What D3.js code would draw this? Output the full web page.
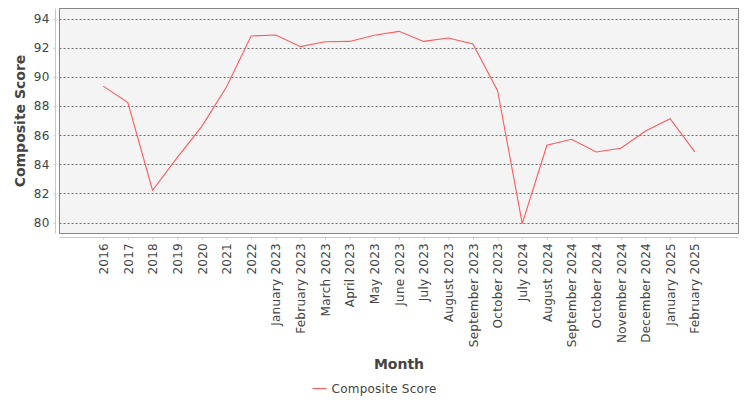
<!DOCTYPE html>
<html>
<head>
<meta charset="utf-8">
<script src="https://cdn.jsdelivr.net/npm/d3@7/dist/d3.min.js"></script>
<style>
  html, body { margin: 0; padding: 0; background: #ffffff; }
  svg { display: block; font-family: "DejaVu Sans", sans-serif; }
</style>
</head>
<body>
<div id="chart"></div>
<script>
const categories = ["2016","2017","2018","2019","2020","2021","2022",
  "January 2023","February 2023","March 2023","April 2023","May 2023","June 2023",
  "July 2023","August 2023","September 2023","October 2023","July 2024",
  "August 2024","September 2024","October 2024","November 2024","December 2024",
  "January 2025","February 2025"];
const compositeScore = [89.37, 88.24, 82.22, 84.46, 86.61, 89.31, 92.81,
  92.88, 92.08, 92.42, 92.44, 92.86, 93.13,
  92.44, 92.67, 92.26, 89.06, 79.93,
  85.31, 85.72, 84.85, 85.10, 86.29,
  87.13, 84.85];
const yTicks = [80, 82, 84, 86, 88, 90, 92, 94];
const seriesName = "Composite Score";
const xTitle = "Month";
const yTitle = "Composite Score";

const W = 750, H = 400;
const plot = { left: 59.5, right: 738.5, top: 8.5, bottom: 233.5 };
const pw = plot.right - plot.left;

const svg = d3.select("#chart").append("svg").attr("width", W).attr("height", H);

// category axis like JFreeChart: 5% margins, 20% category gap
const n = categories.length;
const lowerM = 0.05 * pw, upperM = 0.05 * pw;
const avail = pw - lowerM - upperM;
const cw = (avail - 0.2 * avail) / n;
const x = d3.scalePoint().domain(categories)
  .range([plot.left + lowerM + cw / 2, plot.right - upperM - cw / 2]);

const y = d3.scaleLinear().domain([79.25, 94.7]).range([plot.bottom, plot.top]);

// plot background
svg.append("rect")
  .attr("x", plot.left).attr("y", plot.top)
  .attr("width", pw).attr("height", plot.bottom - plot.top)
  .attr("fill", "#f4f4f4");

// gridlines
svg.append("g").selectAll("line").data(yTicks).join("line")
  .attr("x1", plot.left).attr("x2", plot.right)
  .attr("y1", d => Math.round(y(d)) + 0.5).attr("y2", d => Math.round(y(d)) + 0.5)
  .attr("stroke", "#707070").attr("stroke-width", 1)
  .attr("stroke-dasharray", "2,2");

// line
const line = d3.line().x((d, i) => x(categories[i])).y(d => y(d));
svg.append("path").datum(compositeScore)
  .attr("d", line).attr("fill", "none")
  .attr("stroke", "#ff5b5b").attr("stroke-width", 1.1);

// plot outline
svg.append("rect")
  .attr("x", plot.left).attr("y", plot.top)
  .attr("width", pw).attr("height", plot.bottom - plot.top)
  .attr("fill", "none").attr("stroke", "#878787").attr("stroke-width", 1);

// y axis
const yAxisX = 55.5;
const yAxis = d3.axisLeft(y).tickValues(yTicks).tickSize(2).tickPadding(4).tickFormat(d3.format("d"));
const yg = svg.append("g").attr("transform", `translate(${yAxisX},0)`).call(yAxis);
yg.select(".domain").attr("d", `M0,${plot.top}V${plot.bottom}`).attr("stroke", "#c8c8c8");
yg.selectAll(".tick line").attr("stroke", "#c8c8c8");
yg.selectAll(".tick text").attr("fill", "#444444").attr("font-size", 12)
  .attr("font-family", "DejaVu Sans").attr("letter-spacing", "0.2px");

// x axis
const xAxisY = 237.5;
const xAxis = d3.axisBottom(x).tickSize(2).tickPadding(0);
const xg = svg.append("g").attr("transform", `translate(0,${xAxisY})`).call(xAxis);
xg.select(".domain").attr("d", `M${plot.left},0H${plot.right}`).attr("stroke", "#c8c8c8");
xg.selectAll(".tick line").attr("stroke", "#c8c8c8");
xg.selectAll(".tick text")
  .attr("fill", "#444444").attr("font-size", 12).attr("font-family", "DejaVu Sans")
  .attr("letter-spacing", "0.25px")
  .attr("text-anchor", "end")
  .attr("transform", "translate(0,5.5) rotate(-90)")
  .attr("x", 0).attr("y", 0).attr("dy", "0.35em");

// axis titles
svg.append("text")
  .attr("transform", `translate(25,${(plot.top + plot.bottom) / 2}) rotate(-90)`)
  .attr("text-anchor", "middle")
  .attr("font-size", 14).attr("font-weight", "bold").attr("fill", "#444444")
  .text(yTitle);

svg.append("text")
  .attr("x", (plot.left + plot.right) / 2).attr("y", 369)
  .attr("text-anchor", "middle")
  .attr("font-size", 14).attr("font-weight", "bold").attr("fill", "#444444")
  .text(xTitle);

// legend
const lg = svg.append("g");
lg.append("line").attr("x1", 312.5).attr("x2", 326.5).attr("y1", 388.5).attr("y2", 388.5)
  .attr("stroke", "#ff5b5b").attr("stroke-width", 1.1);
lg.append("text").attr("x", 331.5).attr("y", 392.5)
  .attr("font-size", 12).attr("fill", "#444444").attr("letter-spacing", "0.25px")
  .text(seriesName);
</script>
</body>
</html>
